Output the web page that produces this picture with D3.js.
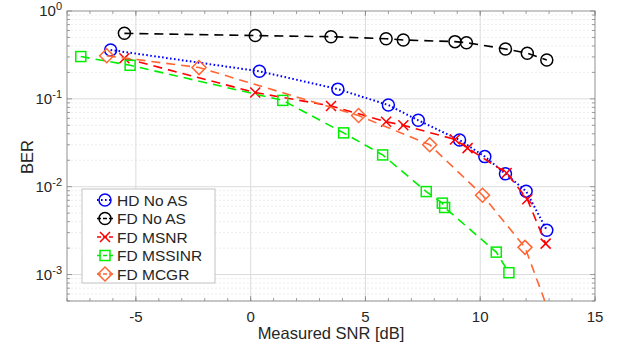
<!DOCTYPE html>
<html>
<head>
<meta charset="utf-8">
<script src="https://cdn.jsdelivr.net/npm/d3@7"></script>
<style>
  body { margin: 0; background: #fff; }
  svg text { font-family: "Liberation Sans", Arial, Helvetica, sans-serif; fill: #262626; }
</style>
</head>
<body>
<div id="chart"></div>
<script>
// series values
const hdSnr = [-6.1, 0.38, 3.8, 6.0, 7.3, 9.1, 10.2, 11.1, 12.0, 12.9];
const hdBer = [0.36, 0.206, 0.129, 0.085, 0.057, 0.034, 0.022, 0.014, 0.0089, 0.0032];

const fdSnr = [-5.5, 0.2, 3.5, 5.9, 6.65, 8.9, 9.4, 11.1, 12.05, 12.9];
const fdBer = [0.557, 0.525, 0.51, 0.484, 0.468, 0.448, 0.436, 0.37, 0.331, 0.277];

const msnrSnr = [-5.5, 0.2, 3.5, 5.9, 6.65, 8.9, 9.45, 11.15, 12.05, 12.85];
const msnrBer = [0.29, 0.118, 0.083, 0.055, 0.050, 0.0345, 0.0275, 0.0143, 0.0072, 0.00225];

const mssinrSnr = [-7.4, -5.25, 1.4, 4.05, 5.75, 7.65, 8.35, 8.45, 10.7, 11.25];
const mssinrBer = [0.303, 0.241, 0.096, 0.041, 0.023, 0.0088, 0.0065, 0.0058, 0.0018, 0.00105];

const mcgrSnr = [-6.27, -2.25, 4.7, 7.8, 10.1, 11.95, 13.0];
const mcgrBer = [0.31, 0.227, 0.0646, 0.030, 0.0080, 0.00204, 0.00037];

const xTicks = [-5, 0, 5, 10, 15];
const yTickExp = [0, -1, -2, -3];
const seriesNames = ["HD No AS", "FD No AS", "FD MSNR", "FD MSSINR", "FD MCGR"];

const series = [
  { name: seriesNames[0], x: hdSnr, y: hdBer, color: "#0000ff", dash: "1.6,2.4", marker: "circle" },
  { name: seriesNames[1], x: fdSnr, y: fdBer, color: "#000000", dash: "9,6", marker: "circle" },
  { name: seriesNames[2], x: msnrSnr, y: msnrBer, color: "#ff0000", dash: "9,6", marker: "cross" },
  { name: seriesNames[3], x: mssinrSnr, y: mssinrBer, color: "#00ee00", dash: "9,6", marker: "square" },
  { name: seriesNames[4], x: mcgrSnr, y: mcgrBer, color: "#ff6633", dash: "9,6", marker: "diamond" }
];

const width = 619, height = 350;
const margin = { top: 11, right: 24, bottom: 49, left: 67 };
const iw = width - margin.left - margin.right;
const ih = height - margin.top - margin.bottom;

const svg = d3.select("#chart").append("svg")
  .attr("width", width).attr("height", height);

const x = d3.scaleLinear().domain([-8, 15]).range([0, iw]);
const y = d3.scaleLog().domain([5e-4, 1]).range([ih, 0]);

const g = svg.append("g").attr("transform", `translate(${margin.left},${margin.top})`);

// minor horizontal grid
const minorY = [];
for (let e = -4; e < 0; e++) for (let m = 2; m <= 9; m++) {
  const v = m * Math.pow(10, e);
  if (v >= 5e-4 && v < 1) minorY.push(v);
}
g.selectAll("line.minor").data(minorY).join("line")
  .attr("class", "minor")
  .attr("x1", 0).attr("x2", iw)
  .attr("y1", d => y(d)).attr("y2", d => y(d))
  .attr("stroke", "#e8e8e8").attr("stroke-dasharray", "2,2").attr("stroke-width", 0.8);

// major grid
g.selectAll("line.gx").data(xTicks.filter(d => d < 15)).join("line")
  .attr("class", "gx")
  .attr("x1", d => x(d)).attr("x2", d => x(d)).attr("y1", 0).attr("y2", ih)
  .attr("stroke", "#dcdcdc");
g.selectAll("line.gy").data(yTickExp.filter(e => e < 0)).join("line")
  .attr("class", "gy")
  .attr("x1", 0).attr("x2", iw)
  .attr("y1", d => y(Math.pow(10, d))).attr("y2", d => y(Math.pow(10, d)))
  .attr("stroke", "#dcdcdc");

// axes with inward ticks on all sides
const axisColor = "#868686";
const xMinor = d3.range(-8, 16, 1);
const yMajor = yTickExp.map(e => Math.pow(10, e));

function tickSet(sel, vals, horiz, len, pos) {
  sel.selectAll(null).data(vals).join("line")
    .attr("x1", d => horiz ? x(d) : pos)
    .attr("x2", d => horiz ? x(d) : pos + len)
    .attr("y1", d => horiz ? pos : y(d))
    .attr("y2", d => horiz ? pos + len : y(d))
    .attr("stroke", axisColor).attr("stroke-width", 0.8);
}
const ticks = g.append("g");
tickSet(ticks, xMinor, true, -3, ih);
tickSet(ticks, xTicks, true, -5, ih);
tickSet(ticks, xMinor, true, 3, 0);
tickSet(ticks, xTicks, true, 5, 0);
tickSet(ticks, minorY, false, 3, 0);
tickSet(ticks, yMajor, false, 5, 0);
tickSet(ticks, minorY, false, -3, iw);
tickSet(ticks, yMajor, false, -5, iw);

g.append("rect").attr("width", iw).attr("height", ih)
  .attr("fill", "none").attr("stroke", axisColor).attr("stroke-width", 0.9);

// tick labels
g.selectAll("text.xl").data(xTicks).join("text")
  .attr("class", "xl")
  .attr("x", d => x(d)).attr("y", ih + 21)
  .attr("text-anchor", "middle").attr("font-size", 15)
  .text(d => d < 0 ? "-" + Math.abs(d) : d);

const yl = g.selectAll("text.yl").data(yTickExp).join("text")
  .attr("class", "yl")
  .attr("x", -5).attr("y", d => y(Math.pow(10, d)) + 5)
  .attr("text-anchor", "end").attr("font-size", 15);
yl.append("tspan").text("10");
yl.append("tspan").attr("dy", -6).attr("font-size", 11).text(d => d === 0 ? "0" : "-" + Math.abs(d));

svg.append("text")
  .attr("x", margin.left + iw / 2).attr("y", 339)
  .attr("text-anchor", "middle").attr("font-size", 16.5)
  .text("Measured SNR [dB]");
svg.append("text")
  .attr("transform", `translate(33,${margin.top + ih / 2 + 1}) rotate(-90)`)
  .attr("text-anchor", "middle").attr("font-size", 16.5)
  .text("BER");

// data
svg.append("clipPath").attr("id", "plotclip")
  .append("rect").attr("width", iw).attr("height", ih);
const plot = g.append("g").attr("clip-path", "url(#plotclip)");

const line = d3.line().x(d => x(d[0])).y(d => y(d[1]));

function drawMarker(sel, type, color) {
  const r = 6;
  sel.each(function () {
    const s = d3.select(this);
    if (type === "circle") {
      s.append("circle").attr("r", r);
    } else if (type === "square") {
      s.append("rect").attr("x", -5).attr("y", -5).attr("width", 10).attr("height", 10);
    } else if (type === "diamond") {
      s.append("path").attr("d", "M0,-7L7,0L0,7L-7,0Z");
    } else if (type === "cross") {
      s.append("path").attr("d", "M-5,-5L5,5M-5,5L5,-5");
    }
    s.selectAll("*").attr("fill", "none").attr("stroke", color).attr("stroke-width", 1.5);
  });
}

series.forEach(s => {
  const pts = s.x.map((v, i) => [v, s.y[i]]);
  plot.append("path").datum(pts)
    .attr("d", line)
    .attr("fill", "none").attr("stroke", s.color)
    .attr("stroke-width", s.color === "#0000ff" ? 2 : 1.6)
    .attr("stroke-dasharray", s.dash);
  plot.selectAll(null).data(pts).join("g")
    .attr("transform", d => `translate(${x(d[0])},${y(d[1])})`)
    .call(sel => drawMarker(sel, s.marker, s.color));
});

// legend
const lg = svg.append("g").attr("transform", "translate(82,189)");
lg.append("rect").attr("width", 133).attr("height", 94)
  .attr("fill", "#fff").attr("stroke", "#b5b5b5").attr("stroke-width", 0.8);
const items = lg.selectAll("g.item").data(series).join("g")
  .attr("class", "item")
  .attr("transform", (d, i) => `translate(0,${11 + i * 18.5})`);
items.append("line")
  .attr("x1", 15).attr("x2", 31)
  .attr("stroke", d => d.color).attr("stroke-width", d => d.color === "#0000ff" ? 2 : 1.6)
  .attr("stroke-dasharray", d => d.color === "#0000ff" ? "1.6,2.4" : "4,2");
items.append("g").attr("transform", "translate(23,0)")
  .each(function (d) { drawMarker(d3.select(this), d.marker, d.color); });
items.append("text")
  .attr("x", 35).attr("y", 5.5).attr("font-size", 15.5)
  .text(d => d.name);
</script>
</body>
</html>
